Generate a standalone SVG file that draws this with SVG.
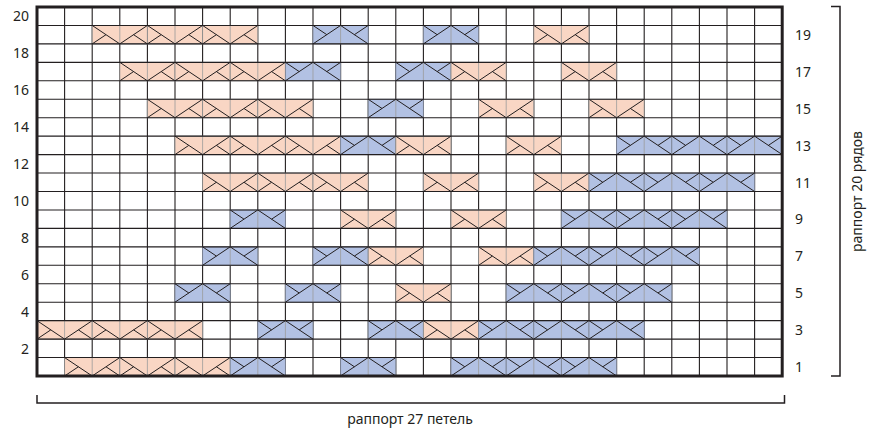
<svg xmlns="http://www.w3.org/2000/svg" xmlns:xlink="http://www.w3.org/1999/xlink" width="880" height="432" viewBox="0 0 880 432">
<style>
.txt{font-family:"Noto Sans","Open Sans","Liberation Sans",sans-serif;font-size:14px;fill:#231f20}
.gl{stroke:#231f20;stroke-width:1.1;fill:none}
.diag{stroke:#231f20;stroke-width:1;fill:none}
.pf{fill:#f9d6c4;stroke:#8c8c8c;stroke-width:0.9}
.bf{fill:#b2c1e3;stroke:#7f8797;stroke-width:0.9}
.mid{stroke:#9a9a9a;stroke-width:0.8}
.br{stroke:#231f20;stroke-width:1.5;fill:none}
</style>
<defs>
<g id="P">
<rect class="pf" x="0" y="0" width="55.2" height="18.45"/>
<line class="mid" x1="27.6" y1="0" x2="27.6" y2="18.45"/>
<path class="diag" d="M0,0 L27.6,18.45 M0,18.45 L13.8,9.225 M55.2,0 L27.6,18.45 M55.2,18.45 L41.4,9.225"/>
</g>
<g id="B">
<rect class="bf" x="0" y="0" width="55.2" height="18.45"/>
<line class="mid" x1="27.6" y1="0" x2="27.6" y2="18.45"/>
<path class="diag" d="M0,18.45 L27.6,0 M0,0 L13.8,9.225 M27.6,0 L55.2,18.45 M55.2,0 L41.4,9.225"/>
</g>
</defs>
<rect x="0" y="0" width="880" height="432" fill="#ffffff"/>
<g id="grid-vertical">
<path class="gl" d="M64.6,7V376M92.2,7V376M119.8,7V376M147.4,7V376M175,7V376M202.6,7V376M230.2,7V376M257.8,7V376M285.4,7V376M313,7V376M340.6,7V376M368.2,7V376M395.8,7V376M423.4,7V376M451,7V376M478.6,7V376M506.2,7V376M533.8,7V376M561.4,7V376M589,7V376M616.6,7V376M644.2,7V376M671.8,7V376M699.4,7V376M727,7V376M754.6,7V376"/>
</g>
<g id="row19">
<use xlink:href="#P" x="92.2" y="25.45"/><use xlink:href="#P" x="147.4" y="25.45"/><use xlink:href="#P" x="202.6" y="25.45"/>
<use xlink:href="#B" x="313" y="25.45"/><use xlink:href="#B" x="423.4" y="25.45"/><use xlink:href="#P" x="533.8" y="25.45"/>
</g>
<g id="row17">
<use xlink:href="#P" x="119.8" y="62.35"/><use xlink:href="#P" x="175" y="62.35"/><use xlink:href="#P" x="230.2" y="62.35"/>
<use xlink:href="#B" x="285.4" y="62.35"/><use xlink:href="#B" x="395.8" y="62.35"/><use xlink:href="#P" x="451" y="62.35"/><use xlink:href="#P" x="561.4" y="62.35"/>
</g>
<g id="row15">
<use xlink:href="#P" x="147.4" y="99.25"/><use xlink:href="#P" x="202.6" y="99.25"/><use xlink:href="#P" x="257.8" y="99.25"/>
<use xlink:href="#B" x="368.2" y="99.25"/><use xlink:href="#P" x="478.6" y="99.25"/><use xlink:href="#P" x="589" y="99.25"/>
</g>
<g id="row13">
<use xlink:href="#P" x="175" y="136.15"/><use xlink:href="#P" x="230.2" y="136.15"/><use xlink:href="#P" x="285.4" y="136.15"/>
<use xlink:href="#B" x="340.6" y="136.15"/><use xlink:href="#P" x="395.8" y="136.15"/><use xlink:href="#P" x="506.2" y="136.15"/>
<use xlink:href="#B" x="616.6" y="136.15"/><use xlink:href="#B" x="671.8" y="136.15"/><use xlink:href="#B" x="727" y="136.15"/>
</g>
<g id="row11">
<use xlink:href="#P" x="202.6" y="173.05"/><use xlink:href="#P" x="257.8" y="173.05"/><use xlink:href="#P" x="313" y="173.05"/>
<use xlink:href="#P" x="423.4" y="173.05"/><use xlink:href="#P" x="533.8" y="173.05"/>
<use xlink:href="#B" x="589" y="173.05"/><use xlink:href="#B" x="644.2" y="173.05"/><use xlink:href="#B" x="699.4" y="173.05"/>
</g>
<g id="row9">
<use xlink:href="#B" x="230.2" y="209.95"/><use xlink:href="#P" x="340.6" y="209.95"/><use xlink:href="#P" x="451" y="209.95"/>
<use xlink:href="#B" x="561.4" y="209.95"/><use xlink:href="#B" x="616.6" y="209.95"/><use xlink:href="#B" x="671.8" y="209.95"/>
</g>
<g id="row7">
<use xlink:href="#B" x="202.6" y="246.85"/><use xlink:href="#B" x="313" y="246.85"/><use xlink:href="#P" x="368.2" y="246.85"/><use xlink:href="#P" x="478.6" y="246.85"/>
<use xlink:href="#B" x="533.8" y="246.85"/><use xlink:href="#B" x="589" y="246.85"/><use xlink:href="#B" x="644.2" y="246.85"/>
</g>
<g id="row5">
<use xlink:href="#B" x="175" y="283.75"/><use xlink:href="#B" x="285.4" y="283.75"/><use xlink:href="#P" x="395.8" y="283.75"/>
<use xlink:href="#B" x="506.2" y="283.75"/><use xlink:href="#B" x="561.4" y="283.75"/><use xlink:href="#B" x="616.6" y="283.75"/>
</g>
<g id="row3">
<use xlink:href="#P" x="37" y="320.65"/><use xlink:href="#P" x="92.2" y="320.65"/><use xlink:href="#P" x="147.4" y="320.65"/>
<use xlink:href="#B" x="257.8" y="320.65"/><use xlink:href="#B" x="368.2" y="320.65"/><use xlink:href="#P" x="423.4" y="320.65"/>
<use xlink:href="#B" x="478.6" y="320.65"/><use xlink:href="#B" x="533.8" y="320.65"/><use xlink:href="#B" x="589" y="320.65"/>
</g>
<g id="row1">
<use xlink:href="#P" x="64.6" y="357.55"/><use xlink:href="#P" x="119.8" y="357.55"/><use xlink:href="#P" x="175" y="357.55"/>
<use xlink:href="#B" x="230.2" y="357.55"/><use xlink:href="#B" x="340.6" y="357.55"/>
<use xlink:href="#B" x="451" y="357.55"/><use xlink:href="#B" x="506.2" y="357.55"/><use xlink:href="#B" x="561.4" y="357.55"/>
</g>
<g id="grid-horizontal">
<path class="gl" d="M37,25.45H782.2M37,43.9H782.2M37,62.35H782.2M37,80.8H782.2M37,99.25H782.2M37,117.7H782.2M37,136.15H782.2M37,154.6H782.2M37,173.05H782.2M37,191.5H782.2M37,209.95H782.2M37,228.4H782.2M37,246.85H782.2M37,265.3H782.2M37,283.75H782.2M37,302.2H782.2M37,320.65H782.2M37,339.1H782.2M37,357.55H782.2"/>
</g>
<g id="border">
<rect x="37" y="7" width="745.2" height="369" fill="none" stroke="#231f20" stroke-width="3"/>
</g>
<g id="labels-left" class="txt" text-anchor="end">
<text x="29" y="21">20</text>
<text x="29" y="58">18</text>
<text x="29" y="95">16</text>
<text x="29" y="132">14</text>
<text x="29" y="169">12</text>
<text x="29" y="205.5">10</text>
<text x="29" y="242.5">8</text>
<text x="29" y="279.5">6</text>
<text x="29" y="316.5">4</text>
<text x="29" y="353.5">2</text>
</g>
<g id="labels-right" class="txt">
<text x="795" y="39.5">19</text>
<text x="795" y="76.5">17</text>
<text x="795" y="113.5">15</text>
<text x="795" y="150.5">13</text>
<text x="795" y="187.5">11</text>
<text x="795" y="224">9</text>
<text x="795" y="261">7</text>
<text x="795" y="298">5</text>
<text x="795" y="335">3</text>
<text x="795" y="372">1</text>
</g>
<g id="bracket-bottom">
<path class="br" d="M37,395V403H784.5V395"/>
<text class="txt" x="410" y="424" text-anchor="middle">раппорт 27 петель</text>
</g>
<g id="bracket-right">
<path class="br" d="M831,6.5H840V376H831"/>
<text class="txt" transform="translate(862,191.5) rotate(-90)" text-anchor="middle">раппорт 20 рядов</text>
</g>
</svg>
